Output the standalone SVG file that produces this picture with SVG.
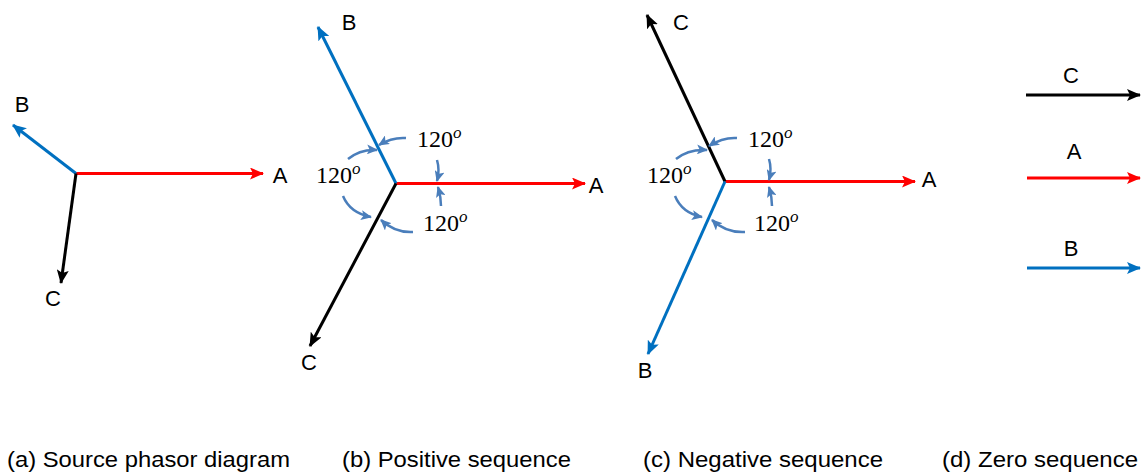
<svg xmlns="http://www.w3.org/2000/svg" width="1142" height="473" viewBox="0 0 1142 473">
<style>
.lbl{font-family:"Liberation Sans",Arial,sans-serif;font-size:22px;fill:#000;text-anchor:middle}
.cap{font-family:"Liberation Sans",Arial,sans-serif;font-size:22px;fill:#000}
.ang{font-family:"Liberation Serif","Times New Roman",serif;font-size:24px;fill:#000}
.sup{font-style:italic;font-size:17px}
.red{stroke:#FF0000;stroke-width:3;fill:none}
.blu{stroke:#0070C0;stroke-width:3;fill:none}
.blk{stroke:#000;stroke-width:3;fill:none}
.cur{stroke:#4A7EBB;stroke-width:2.5;fill:none;marker-end:url(#mc)}
</style>
<defs>
<marker id="mr" markerWidth="14" markerHeight="12" refX="13" refY="6" orient="auto" markerUnits="userSpaceOnUse"><path d="M0,0 L14,6 L0,12 L3,6 Z" fill="#FF0000"/></marker>
<marker id="mb" markerWidth="14" markerHeight="12" refX="13" refY="6" orient="auto" markerUnits="userSpaceOnUse"><path d="M0,0 L14,6 L0,12 L3,6 Z" fill="#0070C0"/></marker>
<marker id="mk" markerWidth="14" markerHeight="12" refX="13" refY="6" orient="auto" markerUnits="userSpaceOnUse"><path d="M0,0 L14,6 L0,12 L3,6 Z" fill="#000"/></marker>
<marker id="mc" markerWidth="11" markerHeight="10" refX="10" refY="5" orient="auto" markerUnits="userSpaceOnUse"><path d="M0,0 L11,5 L0,10 L2.5,5 Z" fill="#4A7EBB"/></marker>
</defs>

<g id="connectors">
<!-- (a) -->
<line class="red" x1="76" y1="173.5" x2="263" y2="173.5" marker-end="url(#mr)"/>
<line class="blu" x1="76" y1="173.5" x2="13" y2="125" marker-end="url(#mb)"/>
<line class="blk" x1="76" y1="173.5" x2="61" y2="283" marker-end="url(#mk)"/>
<!-- (b) -->
<line class="red" x1="396" y1="183.5" x2="585" y2="183.5" marker-end="url(#mr)"/>
<line class="blu" x1="396" y1="183.5" x2="318" y2="27" marker-end="url(#mb)"/>
<line class="blk" x1="396" y1="183.5" x2="310" y2="346" marker-end="url(#mk)"/>
<!-- (c) -->
<line class="red" x1="725" y1="181.5" x2="915" y2="181.5" marker-end="url(#mr)"/>
<line class="blk" x1="725" y1="181.5" x2="647" y2="15" marker-end="url(#mk)"/>
<line class="blu" x1="725" y1="181.5" x2="648" y2="354" marker-end="url(#mb)"/>
<!-- (d) -->
<line class="blk" x1="1026" y1="95" x2="1140" y2="95" marker-end="url(#mk)"/>
<line class="red" x1="1027" y1="178" x2="1140" y2="178" marker-end="url(#mr)"/>
<line class="blu" x1="1027" y1="268" x2="1140" y2="268" marker-end="url(#mb)"/>
</g>

<g id="angle-arrows-b">
<path class="cur" d="M406,138 Q392,137 379,145"/>
<path class="cur" d="M348,159 Q360,149 377,150"/>
<path class="cur" d="M343,196 Q350,213 371,217"/>
<path class="cur" d="M413,232 Q395,233 381,220"/>
<path class="cur" d="M437,160 Q440,170 437,181"/>
<path class="cur" d="M441,206 Q441,197 438,187"/>
</g>
<g id="angle-arrows-c">
<path class="cur" d="M737,138 Q723,137 709,146"/>
<path class="cur" d="M676,159 Q688,149 707,150"/>
<path class="cur" d="M675,196 Q682,213 702,217"/>
<path class="cur" d="M745,232 Q726,233 712,220"/>
<path class="cur" d="M769,159 Q772,169 769,180"/>
<path class="cur" d="M772,206 Q772,197 769,187"/>
</g>

<g id="angle-labels">
<text class="ang" x="417" y="147">120<tspan class="sup" dy="-9">o</tspan></text>
<text class="ang" x="316" y="183">120<tspan class="sup" dy="-9">o</tspan></text>
<text class="ang" x="423" y="231">120<tspan class="sup" dy="-9">o</tspan></text>
<text class="ang" x="748" y="147">120<tspan class="sup" dy="-9">o</tspan></text>
<text class="ang" x="647" y="183">120<tspan class="sup" dy="-9">o</tspan></text>
<text class="ang" x="754" y="231">120<tspan class="sup" dy="-9">o</tspan></text>
</g>

<g id="node-a">
<text class="lbl" x="22" y="112">B</text>
<text class="lbl" x="280" y="183">A</text>
<text class="lbl" x="53" y="306">C</text>
</g>
<g id="node-b">
<text class="lbl" x="349" y="30">B</text>
<text class="lbl" x="596" y="193">A</text>
<text class="lbl" x="309" y="370">C</text>
</g>
<g id="node-c">
<text class="lbl" x="681" y="30">C</text>
<text class="lbl" x="929" y="187">A</text>
<text class="lbl" x="645" y="378">B</text>
</g>
<g id="node-d">
<text class="lbl" x="1071" y="83">C</text>
<text class="lbl" x="1074" y="159">A</text>
<text class="lbl" x="1071" y="256">B</text>
</g>

<g id="captions">
<text class="cap" x="7" y="467" textLength="283" lengthAdjust="spacingAndGlyphs">(a) Source phasor diagram</text>
<text class="cap" x="342" y="467" textLength="229" lengthAdjust="spacingAndGlyphs">(b) Positive sequence</text>
<text class="cap" x="643" y="467" textLength="240" lengthAdjust="spacingAndGlyphs">(c) Negative sequence</text>
<text class="cap" x="942" y="467" textLength="196" lengthAdjust="spacingAndGlyphs">(d) Zero sequence</text>
</g>
</svg>
